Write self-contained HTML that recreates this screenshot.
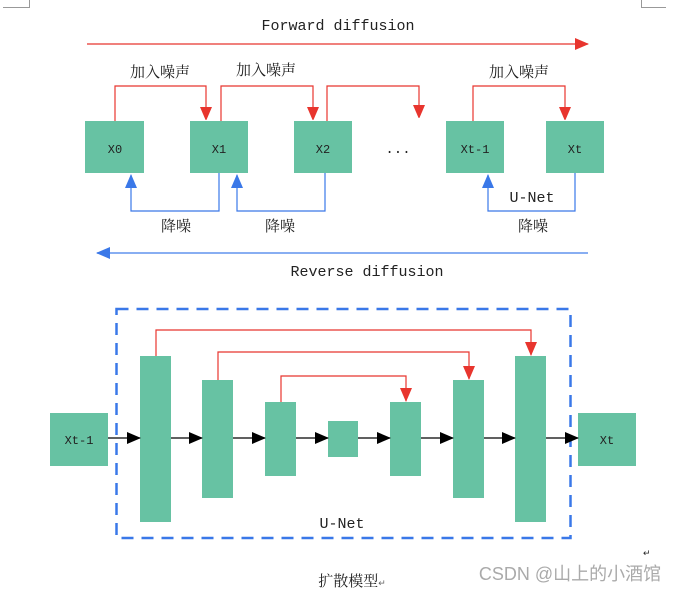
<!DOCTYPE html>
<html><head><meta charset="utf-8"><style>
html,body{margin:0;padding:0;background:#fff;}
svg{display:block;}
.t{font-family:"Liberation Serif","Noto Serif CJK SC",serif;fill:#222;}
.m{font-family:"Liberation Mono","Noto Serif CJK SC",monospace;fill:#222;}
.c{font-family:"Liberation Sans","Noto Sans CJK SC",sans-serif;}
</style></head><body>
<svg width="678" height="592" viewBox="0 0 678 592" xmlns="http://www.w3.org/2000/svg">
<defs>
<marker id="r" markerWidth="12" markerHeight="14" refX="13" refY="6" orient="auto" markerUnits="userSpaceOnUse"><path d="M0,0 L14,6 L0,12 z" fill="#e8352e"/></marker>
<marker id="b" markerWidth="14" markerHeight="12" refX="13" refY="6" orient="auto" markerUnits="userSpaceOnUse"><path d="M0,0 L14,6 L0,12 z" fill="#3a78e8"/></marker>
<marker id="k" markerWidth="14" markerHeight="12" refX="13" refY="6" orient="auto" markerUnits="userSpaceOnUse"><path d="M0,0 L14,6 L0,12 z" fill="#000"/></marker>
<marker id="R2" markerWidth="14" markerHeight="12" refX="13" refY="6" orient="auto" markerUnits="userSpaceOnUse"><path d="M0,0 L14,6 L0,12 z" fill="#e8352e"/></marker>
<marker id="B2" markerWidth="14" markerHeight="12" refX="13" refY="6" orient="auto" markerUnits="userSpaceOnUse"><path d="M0,0 L14,6 L0,12 z" fill="#3a78e8"/></marker>
</defs>
<g stroke="#999" fill="none" stroke-width="1">
<path d="M3,7.5 H29.5 V0"/><path d="M641.5,0 V7.5 H666"/>
</g>
<text x="338" y="30" text-anchor="middle" class="m" font-size="15">Forward diffusion</text>
<line x1="87" y1="44" x2="588" y2="44" stroke="#e8352e" stroke-width="1.2" marker-end="url(#R2)"/>
<g fill="#67c2a3">
<rect x="85" y="121" width="59" height="52"/><rect x="190" y="121" width="58" height="52"/>
<rect x="294" y="121" width="58" height="52"/><rect x="446" y="121" width="58" height="52"/>
<rect x="546" y="121" width="58" height="52"/>
</g>
<g class="m" font-size="12" text-anchor="middle">
<text x="115" y="153">X0</text><text x="219" y="153">X1</text><text x="323" y="153">X2</text>
<text x="475" y="153">Xt-1</text><text x="575" y="153">Xt</text>
<text x="398" y="153" font-size="14">...</text>
</g>
<g stroke="#e8352e" stroke-width="1.2" fill="none" marker-end="url(#r)">
<path d="M115,121 V86 H206 V120"/><path d="M221,121 V86 H313 V120"/>
<path d="M327,121 V86 H419 V118"/><path d="M473,121 V86 H565 V120"/>
</g>
<g class="t" font-size="15" text-anchor="middle">
<text x="160" y="77">加入噪声</text><text x="266" y="75">加入噪声</text><text x="519" y="77">加入噪声</text>
<text x="176" y="231">降噪</text><text x="280" y="231">降噪</text><text x="533" y="231">降噪</text>
</g>
<text x="532" y="202" text-anchor="middle" class="m" font-size="15">U-Net</text>
<g stroke="#3a78e8" stroke-width="1.2" fill="none" marker-end="url(#b)">
<path d="M219,173 V211 H131 V175"/><path d="M325,173 V211 H237 V175"/><path d="M575,173 V211 H488 V175"/>
</g>
<line x1="588" y1="253" x2="97" y2="253" stroke="#3a78e8" stroke-width="1.5" stroke-opacity="0.8" marker-end="url(#B2)"/>
<text x="367" y="276" text-anchor="middle" class="m" font-size="15">Reverse diffusion</text>

<rect x="116.5" y="309" width="454" height="229" fill="none" stroke="#3a78e8" stroke-width="2.5" stroke-dasharray="12,8"/>
<g fill="#67c2a3">
<rect x="50" y="413" width="58" height="53"/>
<rect x="140" y="356" width="31" height="166"/><rect x="202" y="380" width="31" height="118"/>
<rect x="265" y="402" width="31" height="74"/><rect x="328" y="421" width="30" height="36"/>
<rect x="390" y="402" width="31" height="74"/><rect x="453" y="380" width="31" height="118"/>
<rect x="515" y="356" width="31" height="166"/>
<rect x="578" y="413" width="58" height="53"/>
</g>
<g stroke="#000" stroke-width="1.2" marker-end="url(#k)">
<line x1="108" y1="438" x2="140" y2="438"/><line x1="171" y1="438" x2="202" y2="438"/>
<line x1="233" y1="438" x2="265" y2="438"/><line x1="296" y1="438" x2="328" y2="438"/>
<line x1="358" y1="438" x2="390" y2="438"/><line x1="421" y1="438" x2="453" y2="438"/>
<line x1="484" y1="438" x2="515" y2="438"/><line x1="546" y1="438" x2="578" y2="438"/>
</g>
<g stroke="#e8352e" stroke-width="1.2" fill="none" marker-end="url(#R2)">
<path d="M156,356 V330 H531 V355"/><path d="M218,380 V352 H469 V379"/><path d="M281,402 V376 H406 V401"/>
</g>
<g class="m" font-size="12" text-anchor="middle">
<text x="79" y="444">Xt-1</text><text x="607" y="444">Xt</text>
</g>
<text x="342" y="528" text-anchor="middle" class="m" font-size="15">U-Net</text>
<text x="352" y="586" text-anchor="middle" class="t" font-size="15">扩散模型<tspan font-size="9" fill="#666">↵</tspan></text>
<text x="643" y="556" class="t" font-size="9" fill="#666">↵</text>
<text x="570" y="580" text-anchor="middle" class="c" font-size="18" style="fill:#aaa">CSDN @山上的小酒馆</text>
</svg>
</body></html>
